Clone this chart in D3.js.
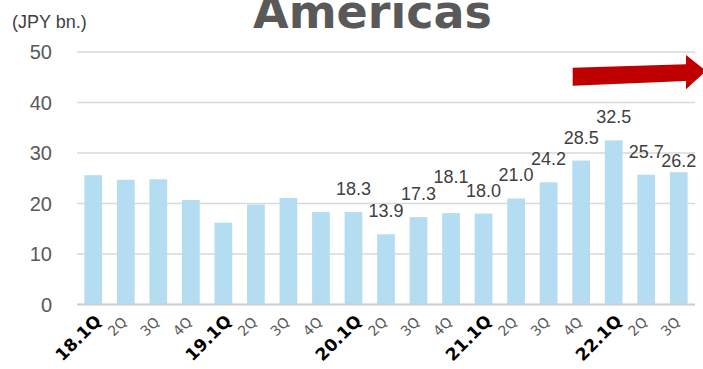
<!DOCTYPE html>
<html>
<head>
<meta charset="utf-8">
<script src="https://cdn.jsdelivr.net/npm/d3@7"></script>
<style>
  body { margin: 0; background: #fff; }
  svg { display: block; }
</style>
</head>
<body>
<svg id="chart" width="703" height="369"></svg>
<script>
// Quarterly figures, Americas (JPY bn.)
const categories = ["18.1Q","18.2Q","18.3Q","18.4Q","19.1Q","19.2Q","19.3Q","19.4Q",
                    "20.1Q","20.2Q","20.3Q","20.4Q","21.1Q","21.2Q","21.3Q","21.4Q",
                    "22.1Q","22.2Q","22.3Q"];
const tickLabels = ["18.1Q","2Q","3Q","4Q","19.1Q","2Q","3Q","4Q",
                    "20.1Q","2Q","3Q","4Q","21.1Q","2Q","3Q","4Q",
                    "22.1Q","2Q","3Q"];
const values = [25.6, 24.7, 24.8, 20.7, 16.2, 19.8, 21.1, 18.3,
                18.3, 13.9, 17.3, 18.1, 18.0, 21.0, 24.2, 28.5,
                32.5, 25.7, 26.2];
const yTicks = [0, 10, 20, 30, 40, 50];
const firstLabelled = "20.1Q";

// Layout
const plot = { left: 77, right: 695, top: 52, bottom: 304.5 };
// vertical nudges that keep crowded value labels apart
const labelNudge = { "20.4Q": -13, "22.3Q": 12 };

const svg = d3.select("#chart");

const x = d3.scaleBand()
  .domain(categories)
  .range([plot.left, plot.right])
  .paddingInner(0.455)
  .paddingOuter(0.2275);

const y = d3.scaleLinear()
  .domain([0, 50])
  .range([plot.bottom, plot.top]);

// gridlines
svg.append("g")
  .selectAll("line")
  .data(yTicks)
  .join("line")
  .attr("x1", plot.left)
  .attr("x2", plot.right)
  .attr("y1", d => y(d))
  .attr("y2", d => y(d))
  .attr("stroke", "#d9d9d9")
  .attr("stroke-width", 1.6);

// y tick labels
svg.append("g")
  .selectAll("text")
  .data(yTicks)
  .join("text")
  .attr("x", 52)
  .attr("y", d => y(d))
  .attr("dy", "0.35em")
  .attr("text-anchor", "end")
  .attr("font-family", "Liberation Sans, Arial, sans-serif")
  .attr("font-size", 20)
  .attr("fill", "#595959")
  .text(d => d);

// bars
svg.append("g")
  .selectAll("rect")
  .data(values)
  .join("rect")
  .attr("x", (d, i) => x(categories[i]))
  .attr("width", x.bandwidth())
  .attr("y", d => y(d))
  .attr("height", d => y(0) - y(d))
  .attr("fill", "#b4ddf1");

// baseline
svg.append("line")
  .attr("x1", plot.left).attr("x2", plot.right)
  .attr("y1", y(0)).attr("y2", y(0))
  .attr("stroke", "#d0d0d0")
  .attr("stroke-width", 2);

// value labels
const startIdx = categories.indexOf(firstLabelled);
svg.append("g")
  .selectAll("text")
  .data(values.map((v, i) => ({ v, c: categories[i], i })).filter(d => d.i >= startIdx))
  .join("text")
  .attr("x", d => x(d.c) + x.bandwidth() / 2)
  .attr("y", d => y(d.v) - 17 + (labelNudge[d.c] || 0))
  .attr("text-anchor", "middle")
  .attr("font-family", "Liberation Sans, Arial, sans-serif")
  .attr("font-size", 18)
  .attr("fill", "#404040")
  .text(d => d.v.toFixed(1));

// x axis labels, rotated
const xAxisG = svg.append("g");
tickLabels.forEach((lab, i) => {
  const major = lab.includes(".");
  const cx = x(categories[i]) + x.bandwidth() / 2;
  const ax = cx + (major ? 9 : 2);
  const ay = major ? 322 : 323;
  xAxisG.append("text")
    .attr("transform", `translate(${ax},${ay}) rotate(-45)`)
    .attr("text-anchor", "end")
    .attr("font-family", "DejaVu Sans, Verdana, sans-serif")
    .attr("font-size", major ? 17 : 14)
    .attr("font-weight", major ? "bold" : "normal")
    .attr("fill", major ? "#000" : "#595959")
    .text(lab);
});

// unit label
svg.append("text")
  .attr("x", 12).attr("y", 28)
  .attr("font-family", "Liberation Sans, Arial, sans-serif")
  .attr("font-size", 18)
  .attr("fill", "#404040")
  .text("(JPY bn.)");

// title (its top runs past the upper edge of the canvas)
svg.append("text")
  .attr("x", 372.5).attr("y", 28)
  .attr("text-anchor", "middle")
  .attr("font-family", "DejaVu Sans, Verdana, sans-serif")
  .attr("font-size", 46)
  .attr("font-weight", "bold")
  .attr("fill", "#595959")
  .text("Americas");

// growth arrow
const arrowPts = [[572.7, 67.7], [686, 64.3], [686, 55], [706, 71], [686, 89.3], [686, 81], [572.7, 85.7]];
svg.append("path")
  .attr("d", d3.line()(arrowPts) + "Z")
  .attr("fill", "#c00000");
</script>
</body>
</html>
